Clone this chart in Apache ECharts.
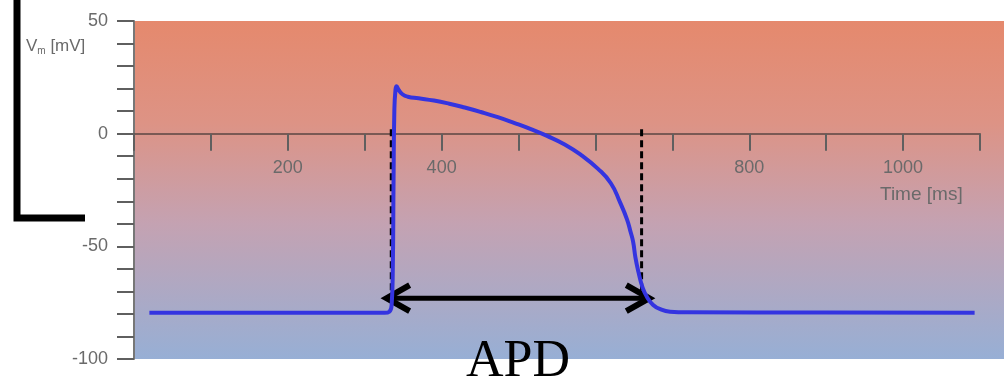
<!DOCTYPE html>
<html>
<head>
<meta charset="utf-8">
<script src="https://cdn.jsdelivr.net/npm/echarts@6/dist/echarts.min.js"></script>
<style>
  html, body { margin: 0; padding: 0; background: #fff; }
  #main { width: 1004px; height: 388px; }
</style>
</head>
<body>
<div id="main"></div>
<script>
// action potential trace
var timeMs = [20, 300, 326, 332, 335, 336.5, 337.5, 338.5, 340, 341.5, 344, 349, 356, 370, 390, 410, 430, 451, 473, 494,
              516, 537, 560, 581, 603, 620, 632, 641, 646, 649, 652, 656, 661, 667, 675, 685, 697, 720, 900, 1093];
var vm = [-79.5, -79.5, -79.5, -79, -76, -60, -20, 10, 19.5, 21, 19.5, 17.5, 16.4, 15.7, 14.7, 13.3, 11.6, 9.6, 7.3, 4.8,
          2.0, -1.0, -4.8, -9.4, -15.5, -22, -30.5, -38, -44, -48, -55, -61.5, -68, -72.5, -76, -78, -79, -79.3, -79.4, -79.5];

var xTickLabels = ['200', '400', '800', '1000'];
var yTickLabels = ['50', '0', '-50', '-100'];

// APD markers (ms / mV)
var apdBounds = [334.5, 660];
var arrowTips = [328.5, 670];
var apdLevel = -73;
var dashTop = 2;

var myChart = echarts.init(document.getElementById('main'));

var tickGray = '#5f5f5f';
var labelGray = '#6a6a6a';

var yMin = -100, yMax = 50, gridH = 338;

var option = {
    animation: false,
    grid: { left: 134, top: 21, width: 846, height: gridH, containLabel: false, outerBoundsMode: 'none' },
    graphic: [
        {
            type: 'rect', z: -100, silent: true,
            shape: { x: 135, y: 21, width: 869, height: 338 },
            style: {
                fill: new echarts.graphic.LinearGradient(0, 0, 0, 1, [
                    { offset: 0, color: '#E5896D' },
                    { offset: 0.3, color: '#DD9385' },
                    { offset: 0.6, color: '#C4A2B2' },
                    { offset: 1, color: '#97AFD5' }
                ])
            }
        },
        {
            type: 'polyline', silent: true,
            shape: { points: [[17, 0], [17, 218], [85, 218]] },
            style: { stroke: '#000', lineWidth: 7, fill: null, lineJoin: 'miter', lineCap: 'butt' }
        },
        {
            type: 'text', left: 26, top: 38,
            style: {
                text: '{v|V}{s|m}{v| [mV]}',
                rich: {
                    v: { fontFamily: 'Liberation Sans', fontSize: 17, fill: labelGray },
                    s: { fontFamily: 'Liberation Sans', fontSize: 10, fill: labelGray, padding: [9, 0, 0, 0] }
                }
            }
        },
        {
            type: 'text', left: 880, top: 185,
            style: { text: 'Time [ms]', fontFamily: 'Liberation Sans', fontSize: 19, fill: labelGray }
        },
        {
            type: 'text', x: 518, y: 362,
            style: {
                text: 'APD', fontFamily: 'Liberation Serif', fontSize: 52, fill: '#000',
                textAlign: 'center', textVerticalAlign: 'middle'
            }
        }
    ],
    xAxis: {
        type: 'value', min: 0, max: 1100, interval: 100,
        position: 'bottom',
        // lift the axis from the grid bottom up to V = 0
        offset: -(0 - yMin) / (yMax - yMin) * gridH,
        axisLine: { onZero: false, lineStyle: { color: 'rgba(90,70,66,0.75)', width: 2 } },
        axisTick: { length: 17, lineStyle: { color: tickGray, width: 2 } },
        axisLabel: {
            margin: 25, fontSize: 18, color: labelGray, fontFamily: 'Liberation Sans',
            formatter: function (v) { return xTickLabels.indexOf(String(v)) >= 0 ? String(v) : ''; }
        },
        splitLine: { show: false }
    },
    yAxis: {
        type: 'value', min: yMin, max: yMax, interval: 10,
        axisLine: { show: true, lineStyle: { color: '#777', width: 2 } },
        axisTick: { show: true, length: 17, lineStyle: { color: tickGray, width: 2 } },
        axisLabel: {
            margin: 26, fontSize: 18, color: labelGray, fontFamily: 'Liberation Sans',
            formatter: function (v) { return yTickLabels.indexOf(String(v)) >= 0 ? String(v) : ''; }
        },
        splitLine: { show: false }
    },
    series: [
        {
            type: 'custom', z: 3, clip: false, silent: true,
            data: [[apdBounds[0], apdBounds[1], arrowTips[0], arrowTips[1], apdLevel, dashTop]],
            renderItem: function (params, api) {
                var lvl = api.value(4), top = api.value(5);
                var d1a = api.coord([api.value(0), top]), d1b = api.coord([api.value(0), lvl]);
                var d2a = api.coord([api.value(1), top]), d2b = api.coord([api.value(1), lvl]);
                var ta = api.coord([api.value(2), lvl]), tb = api.coord([api.value(3), lvl]);
                var dash = { stroke: '#000', lineWidth: 3, lineDash: [7, 4] };
                var solid = { stroke: '#000', lineWidth: 5, fill: null };
                var head = { stroke: '#000', lineWidth: 6, fill: null, lineJoin: 'miter' };
                return {
                    type: 'group',
                    children: [
                        { type: 'line', shape: { x1: d1a[0], y1: d1a[1], x2: d1b[0], y2: d1b[1] }, style: dash },
                        { type: 'line', shape: { x1: d2a[0], y1: d2a[1], x2: d2b[0], y2: d2b[1] }, style: dash },
                        { type: 'line', shape: { x1: ta[0] + 3, y1: ta[1], x2: tb[0] - 3, y2: tb[1] }, style: solid },
                        { type: 'polyline', shape: { points: [[ta[0] + 23, ta[1] - 13], [ta[0], ta[1]], [ta[0] + 23, ta[1] + 13]] }, style: head },
                        { type: 'polyline', shape: { points: [[tb[0] - 23, tb[1] - 13], [tb[0], tb[1]], [tb[0] - 23, tb[1] + 13]] }, style: head }
                    ]
                };
            }
        },
        {
            type: 'line', z: 4,
            data: timeMs.map(function (t, i) { return [t, vm[i]]; }),
            showSymbol: false,
            smooth: 0.5,
            lineStyle: { color: '#3434E0', width: 4 }
        }
    ]
};

myChart.setOption(option);
</script>
</body>
</html>
